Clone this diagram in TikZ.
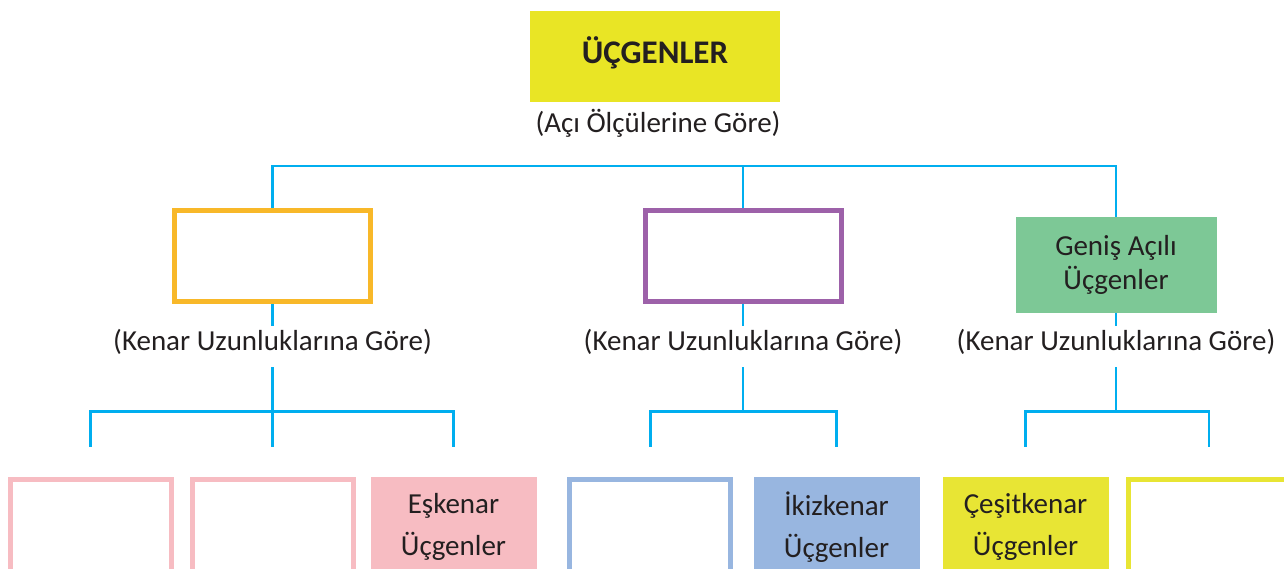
\documentclass[tikz,border=0pt]{standalone}
\usepackage{fontspec}
\setmainfont{Carlito}

\definecolor{linecyan}{HTML}{00AEEF}
\definecolor{titleyellow}{HTML}{E9E525}
\definecolor{acuteorange}{HTML}{F8B829}
\definecolor{rightpurple}{HTML}{9D61A9}
\definecolor{obtusegreen}{HTML}{7DC896}
\definecolor{eqpink}{HTML}{F7BCC2}
\definecolor{isoblue}{HTML}{98B6E0}
\definecolor{scalyellow}{HTML}{E8E534}
\definecolor{inkblack}{HTML}{231F20}

\newcommand{\titlefont}{\fontsize{33pt}{38pt}\selectfont\bfseries}
\newcommand{\lblfont}{\fontsize{29pt}{34pt}\selectfont}
\newcommand{\subfont}{\fontsize{29pt}{42pt}\selectfont}

\tikzset{
  branch/.style={draw=linecyan, line width=2.8pt},
  outlinebox/.style={draw=#1, line width=5pt, fill=white, minimum width=196pt, minimum height=91pt, inner sep=0pt},
  fillbox/.style={fill=#1, minimum width=201pt, minimum height=96pt, inner sep=0pt, align=center, text=inkblack, font=\lblfont},
  subfrm/.style={draw=#1, line width=5pt, fill=white, minimum width=161pt, minimum height=95pt, inner sep=0pt},
  subfill/.style={fill=#1, minimum width=166pt, minimum height=100pt, inner sep=0pt, align=center, text=inkblack, font=\subfont},
  criterion/.style={anchor=base, text=inkblack, font=\lblfont, text height=18pt, text depth=11pt, inner ysep=6pt, inner xsep=0pt}
}

\begin{document}
\begin{tikzpicture}[x=1pt,y=1pt,yscale=-1]
\useasboundingbox (0,0) rectangle (1284,569);
\clip (0,0) rectangle (1284,569);

% Title
\node [fillbox=titleyellow, minimum width=250pt, minimum height=91pt, font=\titlefont, text height=26pt, text depth=12pt] (title) at (655,56.5) {ÜÇGENLER};
\node [criterion] (byangle) at (658,133) {(Açı Ölçülerine Göre)};

% Angle boxes
\node [outlinebox=acuteorange] (acute) at (272.5,256) {};
\node [outlinebox=rightpurple] (right) at (743,256) {};
\node [fillbox=obtusegreen] (obtuse) at (1116,265) {Geniş Açılı\\Üçgenler};

% Text Node
\node [criterion] (sideA) at (272.5,350) {(Kenar Uzunluklarına Göre)};
\node [criterion] (sideR) at (743,350) {(Kenar Uzunluklarına Göre)};
\node [criterion] (sideO) at (1116,350) {(Kenar Uzunluklarına Göre)};

% Side boxes
\node [subfrm=eqpink] (a1) at (90.5,527.3) {};
\node [subfrm=eqpink] (a2) at (272.5,527.3) {};
\node [subfill=eqpink] (a3) at (453.5,527.3) {Eşkenar\\Üçgenler};
\node [subfrm=isoblue] (a4) at (650.3,527.3) {};
\node [subfill=isoblue] (a5) at (836.5,527.3) {İkizkenar\\Üçgenler};
\node [subfill=scalyellow] (a6) at (1025.5,527.3) {Çeşitkenar\\Üçgenler};
\node [subfrm=scalyellow] (a7) at (1209,527.3) {};

%Straight Lines
\path (right.north) ++(0,-42) coordinate (topbar);
\draw [branch] (acute.north) |- (topbar) -| (obtuse.north);
\draw [branch] (topbar) -- (right.north);

\draw [branch] (acute.south) -- (sideA.north);
\draw [branch] (right.south) -- (sideR.north);
\draw [branch] (obtuse.south) -- (sideO.north);

\draw [branch] (sideA.south) -- ++(0,44) coordinate (barA);
\draw [branch] (sideR.south) -- ++(0,44) coordinate (barR);
\draw [branch] (sideO.south) -- ++(0,44) coordinate (barO);
\foreach \bar/\leaf in {barA/a1,barA/a2,barA/a3,barR/a4,barR/a5,barO/a6,barO/a7}
  \draw [branch, shorten >=30pt] (\bar) -| (\leaf.north);

\end{tikzpicture}
\end{document}
